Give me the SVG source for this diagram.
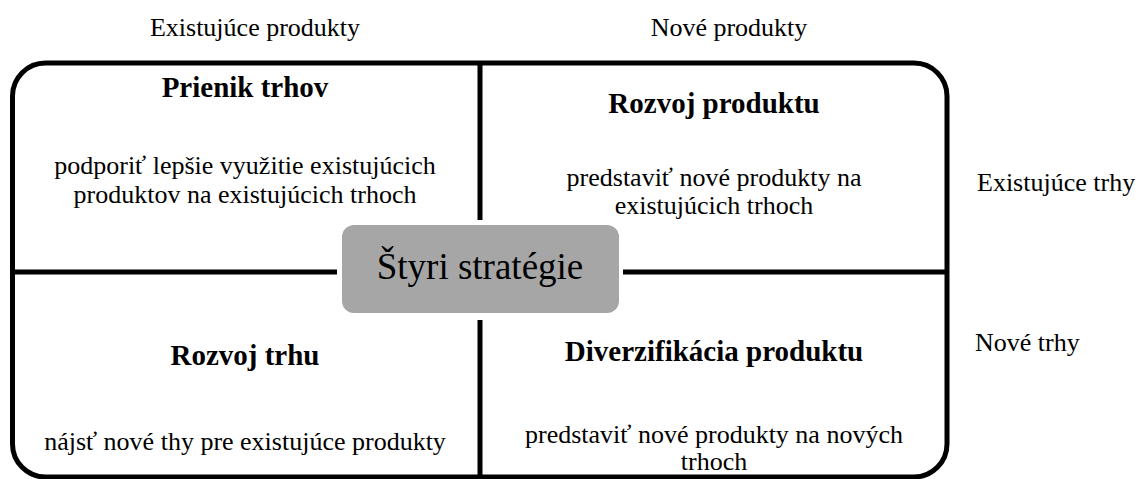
<svg xmlns="http://www.w3.org/2000/svg" width="1141" height="479" viewBox="0 0 1141 479">
<style>
text{font-family:"Liberation Serif","Times New Roman",serif;fill:#000;text-anchor:middle}
.t{font-size:26px}
.b{font-size:29px;font-weight:bold}
.lbl{font-size:26px;text-anchor:start}
.ln{stroke:#000;stroke-width:5;fill:none}
</style>
<rect width="1141" height="479" fill="#fff"/>
<g id="frame">
<rect x="12.5" y="63" width="934.5" height="414" rx="33" ry="33" class="ln"/>
</g>
<g id="connectors">
<line x1="480" y1="63" x2="480" y2="220" class="ln"/>
<line x1="480" y1="320" x2="480" y2="479" class="ln"/>
<line x1="12.5" y1="272" x2="337" y2="272" class="ln"/>
<line x1="623" y1="272" x2="947" y2="272" class="ln"/>
</g>
<g id="axis-labels">
<text class="t" x="255" y="36">Existujúce produkty</text>
<text class="t" x="729" y="36">Nové produkty</text>
<text class="lbl" x="977" y="191">Existujúce trhy</text>
<text class="lbl" x="975" y="351">Nové trhy</text>
</g>
<g id="q1">
<text class="b" x="245" y="97">Prienik trhov</text>
<text class="t" x="245" y="174">podporiť lepšie využitie existujúcich</text>
<text class="t" x="245" y="203">produktov na existujúcich trhoch</text>
</g>
<g id="q2">
<text class="b" x="714" y="113">Rozvoj produktu</text>
<text class="t" x="714" y="186">predstaviť nové produkty na</text>
<text class="t" x="714" y="214">existujúcich trhoch</text>
</g>
<g id="q3">
<text class="b" x="245" y="365">Rozvoj trhu</text>
<text class="t" x="245" y="450">nájsť nové thy pre existujúce produkty</text>
</g>
<g id="q4">
<text class="b" x="714" y="361">Diverzifikácia produktu</text>
<text class="t" x="714" y="443">predstaviť nové produkty na nových</text>
<text class="t" x="714" y="470">trhoch</text>
</g>
<g id="center">
<rect x="342" y="225" width="277" height="88" rx="12" ry="12" fill="#a6a6a6"/>
<text x="480" y="279" style="font-size:37px">Štyri stratégie</text>
</g>
</svg>
